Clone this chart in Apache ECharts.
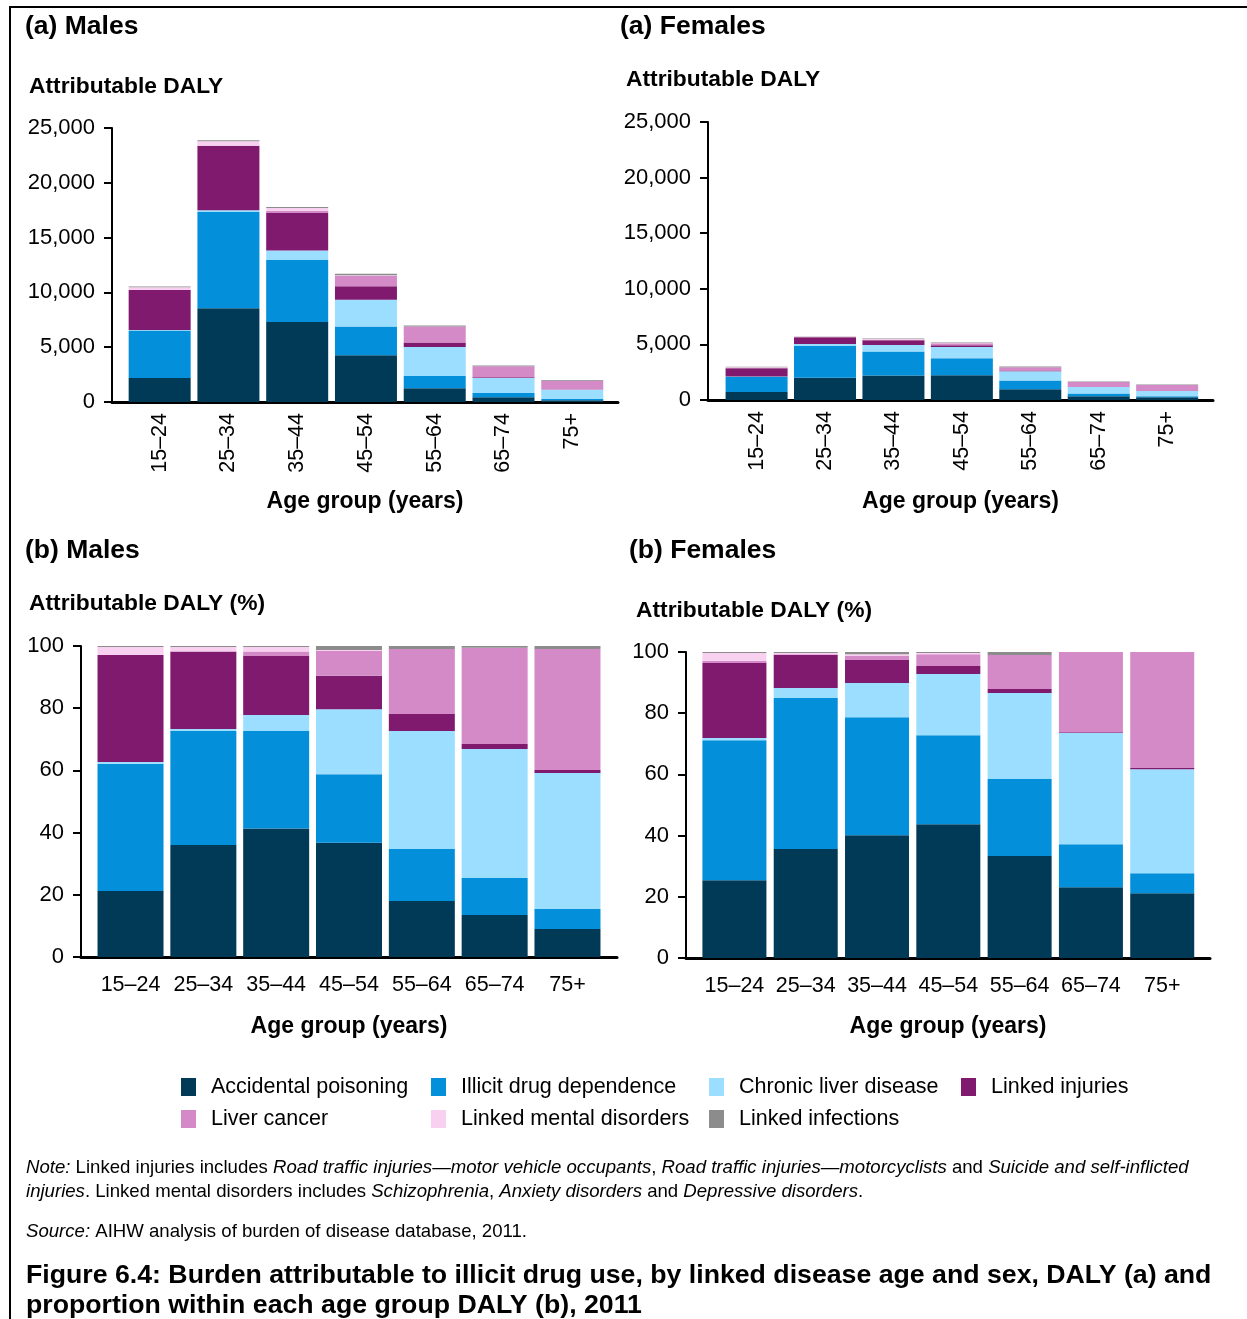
<!DOCTYPE html>
<html><head><meta charset="utf-8">
<script src="https://cdn.jsdelivr.net/npm/echarts@6/dist/echarts.min.js"></script>
<style>html,body{margin:0;padding:0;background:#fff}#c{width:1247px;height:1319px}</style>
</head><body><div id="c"></div>
<script>
// ---------- DATA ----------
const ageGroups = ['15–24','25–34','35–44','45–54','55–64','65–74','75+'];
const seriesNames = ['Accidental poisoning','Illicit drug dependence','Chronic liver disease','Linked injuries','Liver cancer','Linked mental disorders','Linked infections'];
const seriesColors = ['#003a57','#038fd9','#9bdeff','#801a6e','#d38ac7','#f8d1f1','#8c8c8c'];
const dalyTicks = [0, 5000, 10000, 15000, 20000, 25000];
const pctTicks = [0, 20, 40, 60, 80, 100];

// (a) Males - attributable DALY
const mDalyAccidental = [2200, 8550, 7300, 4260, 1245, 430, 165];
const mDalyIllicit    = [4320, 8790, 5660, 2620, 1120, 385, 110];
const mDalyChronic    = [60, 145, 860, 2450, 2645, 1370, 850];
const mDalyInjuries   = [3630, 5900, 3420, 1220, 420, 70, 25];
const mDalyCancer     = [0, 0, 210, 970, 1460, 1010, 800];
const mDalyMental     = [270, 410, 260, 40, 0, 0, 0];
const mDalyInfections = [50, 80, 90, 145, 80, 55, 50];

// (a) Females - attributable DALY
const fDalyAccidental = [720, 1990, 2210, 2230, 970, 340, 250];
const fDalyIllicit    = [1370, 2860, 2150, 1520, 790, 250, 90];
const fDalyChronic    = [30, 180, 590, 1020, 830, 570, 460];
const fDalyInjuries   = [730, 620, 430, 150, 60, 10, 8];
const fDalyCancer     = [20, 20, 70, 180, 300, 440, 530];
const fDalyMental     = [80, 20, 40, 20, 0, 0, 0];
const fDalyInfections = [30, 30, 50, 40, 60, 50, 50];

// (b) Males - % of age group DALY
const mPctAccidental = [21.2, 36.0, 41.3, 36.7, 18.0, 13.5, 9.0];
const mPctIllicit    = [40.9, 36.7, 31.4, 22.1, 16.7, 11.9, 6.4];
const mPctChronic    = [0.6, 0.6, 5.1, 20.9, 38.0, 41.5, 43.8];
const mPctInjuries   = [34.4, 24.9, 19.0, 10.7, 5.4, 1.6, 0.9];
const mPctCancer     = [0, 0, 1.4, 8.0, 20.9, 30.9, 38.9];
const mPctMental     = [2.6, 1.5, 1.5, 0.3, 0, 0, 0];
const mPctInfections = [0.3, 0.3, 0.3, 1.3, 1.0, 0.6, 1.0];

// (b) Females - % of age group DALY
const fPctAccidental = [25.4, 35.6, 40.1, 43.7, 33.3, 23.1, 21.2];
const fPctIllicit    = [45.8, 49.4, 38.6, 29.1, 25.2, 14.1, 6.5];
const fPctChronic    = [0.7, 3.2, 11.2, 20.0, 28.1, 36.3, 34.0];
const fPctInjuries   = [24.5, 10.8, 7.5, 2.6, 1.3, 0.3, 0.4];
const fPctCancer     = [0.7, 0.3, 1.3, 3.9, 11.1, 26.2, 37.9];
const fPctMental     = [2.6, 0.4, 0.6, 0.4, 0, 0, 0];
const fPctInfections = [0.3, 0.3, 0.7, 0.3, 1.0, 0, 0];

// ---------- LAYOUT ----------
const FONT = 'Liberation Sans, Arial, Helvetica, sans-serif';
const panels = [
  { grid:{left:112, top:128, width:506, height:274}, xr:[-0.693, 6.665], barWidth:62, rotate:90, labelMargin:11, nameGap:88,
    ticks:dalyTicks, sets:[mDalyAccidental,mDalyIllicit,mDalyChronic,mDalyInjuries,mDalyCancer,mDalyMental,mDalyInfections] },
  { grid:{left:708, top:122, width:505, height:278}, xr:[-0.71, 6.67], barWidth:62, rotate:90, labelMargin:11, nameGap:90,
    ticks:dalyTicks, sets:[fDalyAccidental,fDalyIllicit,fDalyChronic,fDalyInjuries,fDalyCancer,fDalyMental,fDalyInfections] },
  { grid:{left:81, top:646, width:536, height:311}, xr:[-0.68, 6.68], barWidth:66, rotate:0, labelMargin:17, nameGap:58,
    ticks:pctTicks, sets:[mPctAccidental,mPctIllicit,mPctChronic,mPctInjuries,mPctCancer,mPctMental,mPctInfections] },
  { grid:{left:686, top:652, width:524, height:306}, xr:[-0.679, 6.67], barWidth:64, rotate:0, labelMargin:17, nameGap:57,
    ticks:pctTicks, sets:[fPctAccidental,fPctIllicit,fPctChronic,fPctInjuries,fPctCancer,fPctMental,fPctInfections] }
];

const grids = [], xAxes = [], yAxes = [], series = [];
panels.forEach((p, gi) => {
  grids.push(Object.assign({containLabel:false}, p.grid));
  xAxes.push({
    type:'value', gridIndex:gi, min:p.xr[0], max:p.xr[1],
    axisLine:{show:true, onZero:false, lineStyle:{color:'#000', width:3}},
    axisTick:{show:false}, splitLine:{show:false},
    axisLabel:{customValues: ageGroups.map((_, i) => i), formatter: v => ageGroups[Math.round(v)] || '',
      rotate:p.rotate, margin:p.labelMargin, fontSize:21.5, color:'#000', fontFamily:FONT},
    name:'Age group (years)', nameLocation:'middle', nameGap:p.nameGap,
    nameTextStyle:{fontSize:23, fontWeight:'bold', color:'#000', fontFamily:FONT}
  });
  const tk = p.ticks;
  yAxes.push({
    type:'value', gridIndex:gi, min:tk[0], max:tk[tk.length-1], interval:tk[1]-tk[0],
    axisLine:{show:true, onZero:false, lineStyle:{color:'#000', width:2}},
    axisTick:{show:true, length:8, lineStyle:{color:'#000', width:2}},
    splitLine:{show:false},
    axisLabel:{margin:17, fontSize:22, color:'#000', fontFamily:FONT,
      formatter: v => Number(v).toLocaleString('en-US')}
  });
  p.sets.forEach((arr, k) => {
    series.push({
      type:'bar', name:seriesNames[k], xAxisIndex:gi, yAxisIndex:gi, stack:'s'+gi,
      barWidth:p.barWidth, itemStyle:{color:seriesColors[k]},
      encode:{x:1, y:0},
      data: arr.map((v, i) => [v, i])
    });
  });
});

const legendPos = [[181,1076],[431,1076],[709,1076],[961,1076],[181,1108],[431,1108],[709,1108]];
const legends = seriesNames.map((n, k) => ({
  data:[n], left:legendPos[k][0], top:legendPos[k][1], padding:0, itemGap:0,
  icon:'rect', itemWidth:15, itemHeight:18, selectedMode:false,
  textStyle:{fontSize:21.5, color:'#000', fontFamily:FONT, padding:[0,0,0,10]}
}));

function T(text, left, top, size, bold, lh) {
  return { text, left, top, padding:0,
    textStyle:{fontSize:size, fontWeight: bold ? 'bold' : 'normal', color:'#000', fontFamily:FONT, lineHeight:lh} };
}
const italicRich = {i:{fontStyle:'italic', fontWeight:'normal', fontSize:18.6, lineHeight:24, color:'#000', fontFamily:FONT}};
const titles = [
  T('(a) Males', 25, 12, 26.5, true, 30),
  T('(a) Females', 620, 12, 26.5, true, 30),
  T('Attributable DALY', 29, 73, 22.8, true, 28),
  T('Attributable DALY', 626, 66, 22.8, true, 28),
  T('(b) Males', 25, 536, 26.5, true, 30),
  T('(b) Females', 629, 536, 26.5, true, 30),
  T('Attributable DALY (%)', 29, 590, 22.8, true, 28),
  T('Attributable DALY (%)', 636, 597, 22.8, true, 28),
  { text:'{i|Note:} Linked injuries includes {i|Road traffic injuries—motor vehicle occupants}, {i|Road traffic injuries—motorcyclists} and {i|Suicide and self-inflicted}\n{i|injuries}. Linked mental disorders includes {i|Schizophrenia}, {i|Anxiety disorders} and {i|Depressive disorders}.',
    left:26, top:1156, padding:0,
    textStyle:{fontSize:18.6, fontWeight:'normal', color:'#000', fontFamily:FONT, lineHeight:24, rich:italicRich} },
  { text:'{i|Source:} AIHW analysis of burden of disease database, 2011.',
    left:26, top:1220, padding:0,
    textStyle:{fontSize:18.6, fontWeight:'normal', color:'#000', fontFamily:FONT, lineHeight:24, rich:italicRich} },
  T('Figure 6.4: Burden attributable to illicit drug use, by linked disease age and sex, DALY (a) and\nproportion within each age group DALY (b), 2011', 26, 1261, 26.7, true, 30)
];

const chart = echarts.init(document.getElementById('c'), null, {renderer:'canvas'});
chart.setOption({
  animation:false,
  backgroundColor:'#fff',
  title: titles,
  legend: legends,
  grid: grids, xAxis: xAxes, yAxis: yAxes, series,
  graphic:[{type:'rect', shape:{x:10, y:7, width:1400, height:1400}, style:{fill:'none', stroke:'#000', lineWidth:2}, silent:true}]
});
</script></body></html>
